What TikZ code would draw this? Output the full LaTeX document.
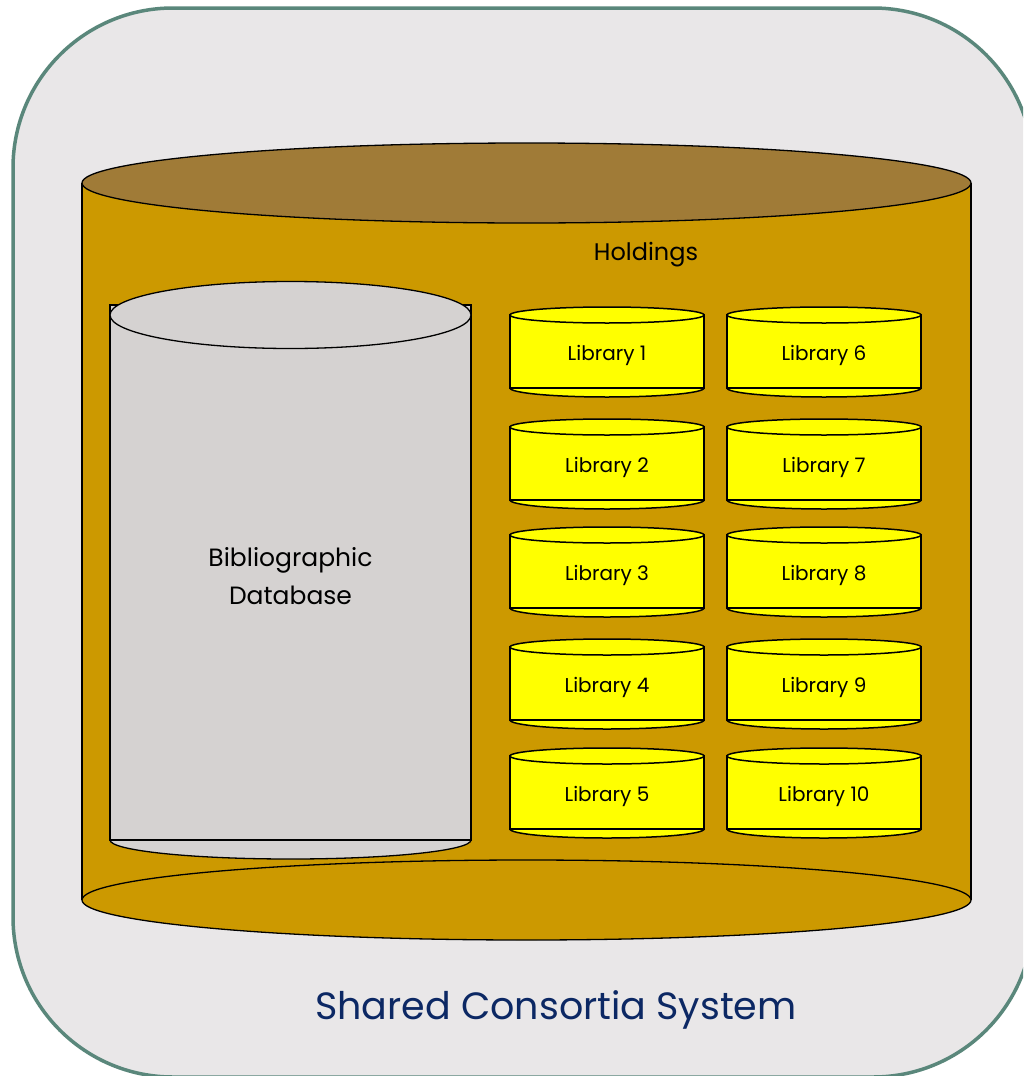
\documentclass[tikz,border=0pt]{standalone}
\usepackage{fontspec}
\setmainfont{Poppins}
\definecolor{ramfarg}{RGB}{90,135,123}
\definecolor{bakgrund}{RGB}{233,231,232}
\definecolor{kropp}{RGB}{204,153,0}
\definecolor{lock}{RGB}{160,123,55}
\definecolor{dbgra}{RGB}{213,210,209}
\definecolor{libgul}{RGB}{255,255,0}
\definecolor{marin}{RGB}{12,40,100}
\tikzset{
  kant/.style={line width=1.3pt, draw=black},
  libkant/.style={line width=1.5pt, draw=black, fill=libgul},
  libtext/.style={font=\fontsize{20}{24}\selectfont},
}
\begin{document}
\begin{tikzpicture}[x=1pt,y=-1pt]
\useasboundingbox (0,0) rectangle (1023,1076);
\clip (0,0) rectangle (1023,1076);
%yttre ram
\draw [line width=3.5pt, draw=ramfarg, fill=bakgrund, rounded corners=160pt] (13,8) rectangle (1033,1077);

%stora cylindern
\fill [kropp] (82,183) rectangle (971,900);
\draw [kant] (82,183) -- (82,900); %vänster vägg
\draw [kant] (971,183) -- (971,900); %höger vägg
\draw [kant, fill=kropp] (526.5,900) ellipse [x radius=444.5, y radius=40]; %botten
\draw [kant, fill=lock] (526.5,183) ellipse [x radius=444.5, y radius=40]; %lock
\node (holdings) at (646,255) {\fontsize{24}{28}\selectfont Holdings};

%bibliografisk databas
\draw [kant, fill=dbgra] (290.5,840) ellipse [x radius=180.5, y radius=19];
\draw [kant, fill=dbgra] (110,305) rectangle (471,840);
\draw [kant, fill=dbgra] (290.5,315) ellipse [x radius=180.5, y radius=33.5];
\node[align=center, font=\fontsize{25}{38}\selectfont] (biblio) at (290.5,576) {Bibliographic\\Database};

%biblioteken
\foreach \rad/\yy in {1/315,2/427,3/535,4/647,5/756}{
  \pgfmathtruncatemacro{\hoger}{\rad+5}
  \foreach \xx/\nr in {607/\rad,824/\hoger}{
    \draw [libkant] (\xx,\yy+73) ellipse [x radius=97, y radius=9];
    \draw [libkant] (\xx-97,\yy) rectangle (\xx+97,\yy+73);
    \draw [libkant] (\xx,\yy) ellipse [x radius=97, y radius=8];
    \node[libtext] (lib\nr) at (\xx,\yy+40) {Library \nr};
  }
}

\node[text=marin] (system) at (556,1010) {\fontsize{38}{44}\selectfont Shared Consortia System};

\end{tikzpicture}
\end{document}
